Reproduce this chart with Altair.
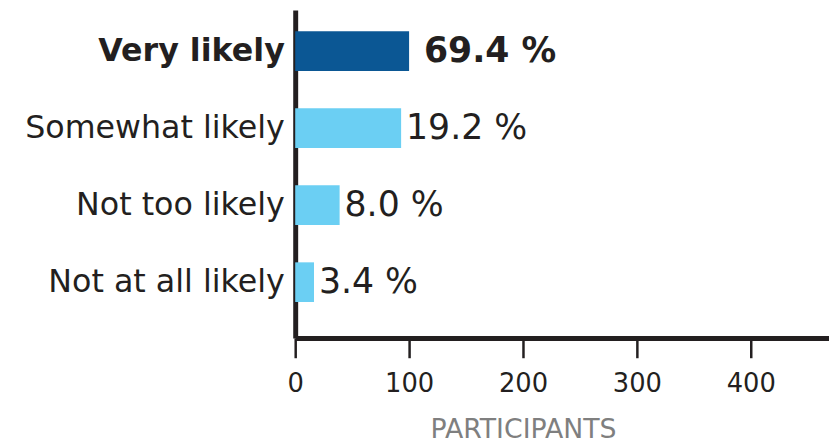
import altair as alt
import pandas as pd

categories = ["Very likely", "Somewhat likely", "Not too likely", "Not at all likely"]
participants = [100, 93, 39, 16.5]
pct_labels = ["69.4 %", "19.2 %", "8.0 %", "3.4 %"]
highlight = ["yes", "no", "no", "no"]

df = pd.DataFrame({
    "category": categories,
    "participants": participants,
    "label": pct_labels,
    "hl": highlight,
})

FONT = "DejaVu Sans"
DARK = "#231f20"

y_enc = alt.Y(
    "category:N",
    sort=categories,
    title=None,
    scale=alt.Scale(paddingInner=0.485, paddingOuter=0.37, align=0.37),
    axis=alt.Axis(
        domain=True, domainColor=DARK, domainWidth=5,
        ticks=False, labelPadding=11, labelLimit=0,
        labelFont=FONT, labelFontSize=32, labelColor=DARK,
        labelFontWeight=alt.expr("datum.value == 'Very likely' ? 'bold' : 'normal'"),
    ),
)

x_enc = alt.X(
    "participants:Q",
    title="PARTICIPANTS",
    scale=alt.Scale(domain=[0, 468.7], nice=False, zero=True),
    axis=alt.Axis(
        values=[0, 100, 200, 300, 400],
        grid=False, domain=True, domainColor=DARK, domainWidth=5,
        ticks=True, tickColor=DARK, tickWidth=2.5, tickSize=20,
        labelFont=FONT, labelFontSize=26, labelColor=DARK, labelPadding=13,
        titleFont=FONT, titleFontSize=27, titleFontWeight="normal",
        titleColor="#7f7f7f", titleX=230, titleY=107, titleAlign="center",
        titleBaseline="bottom", labelFlush=False,
    ),
)

bars = alt.Chart(df).mark_bar().encode(
    x=x_enc,
    y=y_enc,
    color=alt.Color("hl:N", scale=alt.Scale(domain=["yes", "no"], range=["#0b5794", "#6bcff3"]), legend=None),
)

text_bold = alt.Chart(df).transform_filter("datum.hl == 'yes'").mark_text(
    align="left", baseline="middle", dx=15, font=FONT, fontSize=35, fontWeight="bold", color=DARK
).encode(x="participants:Q", y=alt.Y("category:N", sort=categories), text="label:N")

text_norm = alt.Chart(df).transform_filter("datum.hl == 'no'").mark_text(
    align="left", baseline="middle", dx=5, font=FONT, fontSize=35, fontWeight="normal", color=DARK
).encode(x="participants:Q", y=alt.Y("category:N", sort=categories), text="label:N")

chart = alt.layer(bars, text_bold, text_norm).properties(
    width=539, height=331,
    autosize=alt.AutoSizeParams(type="none"),
    padding={"left": 290, "top": 0, "right": 0, "bottom": 109},
).configure_view(stroke=None)

chart.save("out.html", embed_options={"renderer": "svg", "actions": False})
